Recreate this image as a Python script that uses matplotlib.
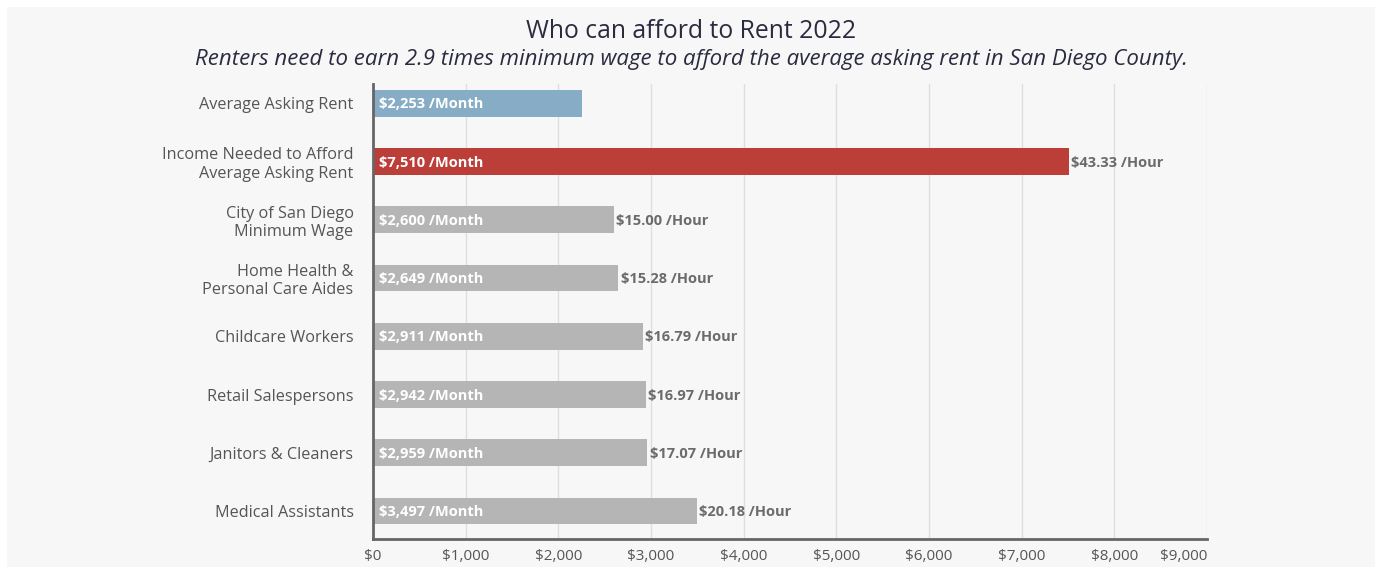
import numpy as np
import matplotlib.pyplot as plt
from matplotlib.patches import Rectangle

# Data
categories = [
    "Average Asking Rent",
    "Income Needed to Afford\nAverage Asking Rent",
    "City of San Diego\nMinimum Wage",
    "Home Health &\nPersonal Care Aides",
    "Childcare Workers",
    "Retail Salespersons",
    "Janitors & Cleaners",
    "Medical Assistants",
]
monthly = [2253, 7510, 2600, 2649, 2911, 2942, 2959, 3497]
hourly = [None, 43.33, 15.00, 15.28, 16.79, 16.97, 17.07, 20.18]
colors = ["#86adc5", "#bb3f38"] + ["#b5b5b5"] * 6
xticks = np.arange(0, 9001, 1000)

W, H = 1377, 567
fig = plt.figure(figsize=(W / 100, H / 100), dpi=100)
fig.patch.set_facecolor("white")
fig.patches.append(Rectangle((7 / W, 0), (1375 - 7) / W, (H - 7) / H,
                             transform=fig.transFigure, facecolor="#f7f7f7",
                             edgecolor="none", zorder=-10))

ax = fig.add_axes([373 / W, (H - 539) / H, (1207 - 373) / W, (539 - 84) / H])
ax.set_facecolor("none")

y = np.arange(len(categories))
ax.barh(y, monthly, height=0.46, color=colors, zorder=3)

for i, (m, h) in enumerate(zip(monthly, hourly)):
    ax.text(70, i + 0.02, f"${m:,} /Month", color="white", fontsize=10.5,
            fontweight="bold", va="center", ha="left", family="Open Sans", zorder=4)
    if h is not None:
        ax.text(m + 25, i + 0.02, f"${h:.2f} /Hour", color="#6b6b6b", fontsize=10.5,
                fontweight="bold", va="center", ha="left", family="Open Sans", zorder=4)

ax.set_xlim(0, 9000)
ax.set_ylim(7.48, -0.33)
ax.set_yticks(y)
ax.set_yticklabels(categories, fontsize=11.7, color="#555555", family="Open Sans",
                   linespacing=1.2)
ax.set_xticks(xticks)
ax.set_xticklabels([f"${v:,}" for v in xticks], fontsize=11, color="#555555",
                   family="Open Sans")
ax.get_xticklabels()[-1].set_ha("right")
ax.tick_params(axis="both", length=0)
ax.tick_params(axis="y", pad=14)
ax.tick_params(axis="x", pad=7)

ax.grid(axis="x", color="#dedede", linewidth=1, zorder=0)
for s in ["top", "right"]:
    ax.spines[s].set_visible(False)
for s in ["left", "bottom"]:
    ax.spines[s].set_color("#666666")
    ax.spines[s].set_linewidth(2)
    ax.spines[s].set_zorder(5)

fig.text(691 / W, 1 - 32 / H, "Who can afford to Rent 2022", ha="center", va="center",
         fontsize=17.8, color="#2b2b40", family="Open Sans")
fig.text(691 / W, 1 - 59 / H,
         "Renters need to earn 2.9 times minimum wage to afford the average asking rent in San Diego County.",
         ha="center", va="center", fontsize=16, color="#2b2b40", family="Open Sans",
         style="italic")

fig.savefig("out.png", dpi=100, facecolor=fig.get_facecolor())
